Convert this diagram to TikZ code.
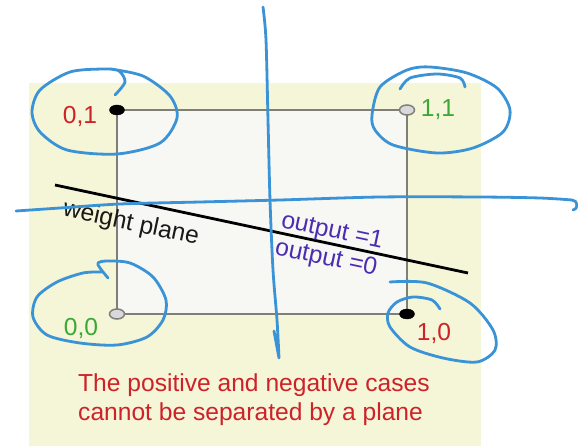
\documentclass[tikz,border=0pt]{standalone}
\usepackage{fontspec}
\setmainfont{Liberation Sans}
\usetikzlibrary{shapes.geometric}
\definecolor{PaperBack}{HTML}{F5F5D8}
\definecolor{SquareFill}{HTML}{F7F7F4}
\definecolor{SquareEdge}{HTML}{7F7F78}
\definecolor{DotGrey}{HTML}{D9D8DC}
\definecolor{CaseRed}{HTML}{CE2229}
\definecolor{CaseGreen}{HTML}{3BA834}
\definecolor{OutPurple}{HTML}{4B2DB2}
\definecolor{InkBlue}{HTML}{3A93D6}
\tikzset{every node/.style={font=\fontsize{24.6}{29}\selectfont},
 posdot/.style={ellipse,draw=black,fill=black,minimum width=15pt,minimum height=10pt,inner sep=0pt},
 negdot/.style={ellipse,draw=SquareEdge,fill=DotGrey,line width=1.5pt,minimum width=15pt,
 minimum height=10pt,inner sep=0pt},
 poslabel/.style={text=CaseRed,anchor=base,inner sep=0pt},
 neglabel/.style={text=CaseGreen,anchor=base,inner sep=0pt},
 outlabel/.style={text=OutPurple,rotate=-12,inner sep=0pt},
 ink/.style={draw=InkBlue,line width=2.8pt,line cap=round,line join=round}}

\begin{document}
\begin{tikzpicture}[x=1pt,y=-1pt]
\useasboundingbox (0,0) rectangle (578,446);
\fill[PaperBack] (29,83) rectangle (481,446);
% corners of the input square
\coordinate (c01) at (117,110);
\coordinate (c11) at (407,110);
\coordinate (c00) at (117,314);
\coordinate (c10) at (407,314);
\fill[SquareFill] (c01) rectangle (c10);
\draw[SquareEdge,line width=2pt] (c01)--(c11)--(c10)--(c00)--cycle;
% weight plane
\coordinate (wa) at (55,185);
\coordinate (wb) at (468,273);
\draw[line width=2.8pt] (wa)--(wb);
\node[posdot] (p01) at (c01) {};
\node[negdot] (p11) at (c11) {};
\node[negdot] (p00) at (c00) {};
\node[posdot] (p10) at (c10) {};
\node[poslabel] (l01) at (80,124) {0,1};
\node[neglabel] (l11) at (438,117) {1,1};
\node[neglabel] (l00) at (81,335) {0,0};
\node[poslabel] (l10) at (434,340) {1,0};
\node[rotate=-12,inner sep=0pt,text=black!90] (wname) at (131,224) {weight plane};
\node[outlabel] (out1) at (332,232) {output =1};
\node[outlabel] (out0) at (326,259) {output =0};
\node[text=CaseRed,align=left,anchor=west,inner sep=0pt] (verdict) at (78,400)
 {The positive and negative cases\\cannot be separated by a plane};
% hand-drawn ink
\draw[ink] plot[smooth] coordinates {(115,95) (125,82) (119,71) (105,69) (70,72) (40,90)
 (32,112) (40,132) (67,150) (117,154) (160,143) (177,118) (170,96) (143,76) (110,69)};
\draw[ink] plot[smooth cycle] coordinates {(372,115) (380,87) (407,70) (430,67) (467,73)
 (497,88) (510,110) (503,132) (473,148) (437,153) (393,145) (375,130)};
\draw[ink] plot[smooth] coordinates {(400,89) (410,78) (437,74) (460,78) (465,87)};
\draw[ink] plot[smooth] coordinates {(108,278) (100,268) (98,263) (107,261) (130,263)
 (153,277) (166,300) (163,320) (147,337) (117,345) (80,343) (47,335) (33,317) (37,297)
 (57,282) (83,273) (102,272)};
\draw[ink] plot[smooth] coordinates {(390,282) (427,283) (470,303) (493,330) (495,350)
 (477,362) (443,358) (410,347) (390,327) (388,313) (397,302) (413,297) (432,300) (440,309)};
\draw[ink] plot[smooth] coordinates {(263,7) (266,40) (268,120) (270,200) (273,270)
 (277,320) (279,358)} -- (274,331);
\draw[ink] plot[smooth] coordinates {(16,211) (60,208) (120,204) (200,202) (280,200)
 (380,197) (480,197) (540,198) (572,200)} to[out=0,in=90] (577,205) to[out=-90,in=0] (573,210);
\end{tikzpicture}
\end{document}
